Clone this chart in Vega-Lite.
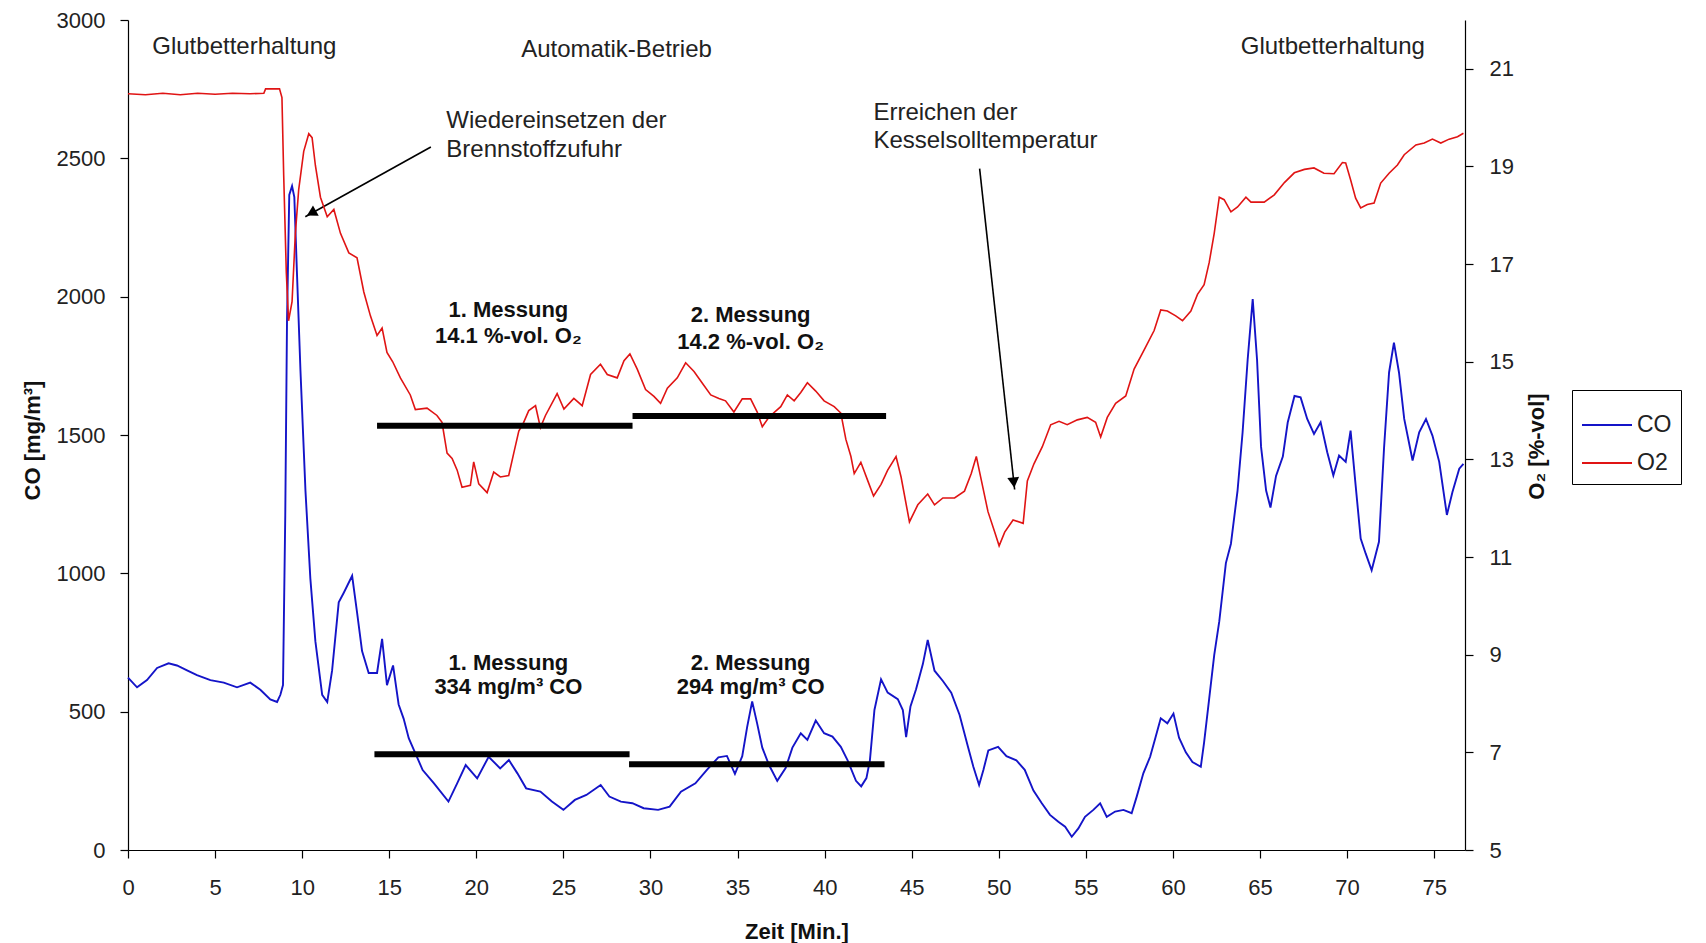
{
  "$schema": "https://vega.github.io/schema/vega-lite/v6.json",
  "width": 1337,
  "height": 830,
  "autosize": {"type": "none"},
  "padding": {"left": 128, "top": 20, "right": 241, "bottom": 93},
  "background": "white",
  "config": {
    "font": "Liberation Sans",
    "view": {"stroke": null},
    "axis": {
      "domainColor": "#000", "tickColor": "#000", "domainWidth": 1.2, "tickWidth": 1.2, "tickSize": 8,
      "grid": false, "labelFont": "Liberation Sans", "labelFontSize": 22, "labelColor": "#222",
      "titleFont": "Liberation Sans", "titleFontSize": 22, "titleFontWeight": "bold", "titleColor": "#111"
    },
    "text": {"font": "Liberation Sans", "fontSize": 24, "color": "#222"}
  },
  "datasets": {
    "co": [
      {"t":0,"v":623,"s":"CO"},{"t":0.52,"v":588,"s":"CO"},{"t":1.09,"v":614,"s":"CO"},{"t":1.67,"v":658,"s":"CO"},{"t":2.33,"v":675,"s":"CO"},{"t":2.81,"v":667,"s":"CO"},{"t":3.39,"v":649,"s":"CO"},{"t":3.96,"v":632,"s":"CO"},{"t":4.73,"v":614,"s":"CO"},{"t":5.5,"v":605,"s":"CO"},{"t":6.26,"v":588,"s":"CO"},{"t":7.02,"v":605,"s":"CO"},{"t":7.6,"v":579,"s":"CO"},{"t":8.17,"v":544,"s":"CO"},{"t":8.56,"v":535,"s":"CO"},{"t":8.75,"v":561,"s":"CO"},{"t":8.9,"v":596,"s":"CO"},{"t":9.03,"v":1210,"s":"CO"},{"t":9.13,"v":1912,"s":"CO"},{"t":9.26,"v":2368,"s":"CO"},{"t":9.42,"v":2400,"s":"CO"},{"t":9.55,"v":2360,"s":"CO"},{"t":9.7,"v":2088,"s":"CO"},{"t":9.9,"v":1737,"s":"CO"},{"t":10.19,"v":1298,"s":"CO"},{"t":10.47,"v":982,"s":"CO"},{"t":10.76,"v":754,"s":"CO"},{"t":11.15,"v":561,"s":"CO"},{"t":11.44,"v":535,"s":"CO"},{"t":11.72,"v":649,"s":"CO"},{"t":12.1,"v":895,"s":"CO"},{"t":12.39,"v":930,"s":"CO"},{"t":12.87,"v":991,"s":"CO"},{"t":13.15,"v":860,"s":"CO"},{"t":13.44,"v":719,"s":"CO"},{"t":13.82,"v":640,"s":"CO"},{"t":14.3,"v":640,"s":"CO"},{"t":14.59,"v":763,"s":"CO"},{"t":14.87,"v":596,"s":"CO"},{"t":15.22,"v":667,"s":"CO"},{"t":15.54,"v":526,"s":"CO"},{"t":15.83,"v":474,"s":"CO"},{"t":16.12,"v":404,"s":"CO"},{"t":16.42,"v":361,"s":"CO"},{"t":16.92,"v":289,"s":"CO"},{"t":17.57,"v":241,"s":"CO"},{"t":18.4,"v":175,"s":"CO"},{"t":18.9,"v":241,"s":"CO"},{"t":19.39,"v":307,"s":"CO"},{"t":20.05,"v":259,"s":"CO"},{"t":20.71,"v":337,"s":"CO"},{"t":21.37,"v":295,"s":"CO"},{"t":21.87,"v":325,"s":"CO"},{"t":22.36,"v":277,"s":"CO"},{"t":22.86,"v":223,"s":"CO"},{"t":23.68,"v":211,"s":"CO"},{"t":24.34,"v":175,"s":"CO"},{"t":25.0,"v":145,"s":"CO"},{"t":25.66,"v":181,"s":"CO"},{"t":26.32,"v":199,"s":"CO"},{"t":27.14,"v":235,"s":"CO"},{"t":27.64,"v":193,"s":"CO"},{"t":28.3,"v":175,"s":"CO"},{"t":28.96,"v":169,"s":"CO"},{"t":29.61,"v":151,"s":"CO"},{"t":30.44,"v":145,"s":"CO"},{"t":31.1,"v":157,"s":"CO"},{"t":31.75,"v":211,"s":"CO"},{"t":32.58,"v":241,"s":"CO"},{"t":33.24,"v":290,"s":"CO"},{"t":33.9,"v":335,"s":"CO"},{"t":34.39,"v":340,"s":"CO"},{"t":34.85,"v":275,"s":"CO"},{"t":35.27,"v":339,"s":"CO"},{"t":35.55,"v":444,"s":"CO"},{"t":35.84,"v":537,"s":"CO"},{"t":36.13,"v":456,"s":"CO"},{"t":36.42,"v":370,"s":"CO"},{"t":36.8,"v":308,"s":"CO"},{"t":37.28,"v":250,"s":"CO"},{"t":37.76,"v":296,"s":"CO"},{"t":38.15,"v":370,"s":"CO"},{"t":38.63,"v":422,"s":"CO"},{"t":39.01,"v":398,"s":"CO"},{"t":39.49,"v":468,"s":"CO"},{"t":39.97,"v":422,"s":"CO"},{"t":40.45,"v":410,"s":"CO"},{"t":40.93,"v":373,"s":"CO"},{"t":41.32,"v":324,"s":"CO"},{"t":41.8,"v":250,"s":"CO"},{"t":42.1,"v":230,"s":"CO"},{"t":42.4,"v":260,"s":"CO"},{"t":42.6,"v":324,"s":"CO"},{"t":42.86,"v":506,"s":"CO"},{"t":43.24,"v":617,"s":"CO"},{"t":43.62,"v":569,"s":"CO"},{"t":44.2,"v":545,"s":"CO"},{"t":44.49,"v":506,"s":"CO"},{"t":44.68,"v":408,"s":"CO"},{"t":44.93,"v":519,"s":"CO"},{"t":45.25,"v":581,"s":"CO"},{"t":45.64,"v":672,"s":"CO"},{"t":45.92,"v":759,"s":"CO"},{"t":46.31,"v":648,"s":"CO"},{"t":46.79,"v":611,"s":"CO"},{"t":47.27,"v":569,"s":"CO"},{"t":47.75,"v":488,"s":"CO"},{"t":48.23,"v":373,"s":"CO"},{"t":48.54,"v":301,"s":"CO"},{"t":48.87,"v":235,"s":"CO"},{"t":49.12,"v":290,"s":"CO"},{"t":49.4,"v":360,"s":"CO"},{"t":49.96,"v":373,"s":"CO"},{"t":50.44,"v":339,"s":"CO"},{"t":51.01,"v":324,"s":"CO"},{"t":51.49,"v":290,"s":"CO"},{"t":51.99,"v":215,"s":"CO"},{"t":52.47,"v":169,"s":"CO"},{"t":52.94,"v":127,"s":"CO"},{"t":53.42,"v":102,"s":"CO"},{"t":53.81,"v":84,"s":"CO"},{"t":54.19,"v":48,"s":"CO"},{"t":54.57,"v":78,"s":"CO"},{"t":54.95,"v":120,"s":"CO"},{"t":55.43,"v":145,"s":"CO"},{"t":55.82,"v":169,"s":"CO"},{"t":56.2,"v":120,"s":"CO"},{"t":56.68,"v":139,"s":"CO"},{"t":57.16,"v":145,"s":"CO"},{"t":57.63,"v":133,"s":"CO"},{"t":57.92,"v":193,"s":"CO"},{"t":58.3,"v":277,"s":"CO"},{"t":58.69,"v":337,"s":"CO"},{"t":58.97,"v":400,"s":"CO"},{"t":59.3,"v":476,"s":"CO"},{"t":59.68,"v":458,"s":"CO"},{"t":60.03,"v":493,"s":"CO"},{"t":60.35,"v":406,"s":"CO"},{"t":60.74,"v":353,"s":"CO"},{"t":61.12,"v":318,"s":"CO"},{"t":61.6,"v":301,"s":"CO"},{"t":61.79,"v":389,"s":"CO"},{"t":62.08,"v":546,"s":"CO"},{"t":62.37,"v":704,"s":"CO"},{"t":62.66,"v":826,"s":"CO"},{"t":63.04,"v":1037,"s":"CO"},{"t":63.33,"v":1107,"s":"CO"},{"t":63.71,"v":1299,"s":"CO"},{"t":64.0,"v":1510,"s":"CO"},{"t":64.29,"v":1772,"s":"CO"},{"t":64.58,"v":1991,"s":"CO"},{"t":64.83,"v":1772,"s":"CO"},{"t":65.06,"v":1457,"s":"CO"},{"t":65.35,"v":1299,"s":"CO"},{"t":65.6,"v":1238,"s":"CO"},{"t":65.92,"v":1352,"s":"CO"},{"t":66.31,"v":1422,"s":"CO"},{"t":66.59,"v":1545,"s":"CO"},{"t":66.98,"v":1641,"s":"CO"},{"t":67.33,"v":1636,"s":"CO"},{"t":67.71,"v":1558,"s":"CO"},{"t":68.1,"v":1504,"s":"CO"},{"t":68.48,"v":1546,"s":"CO"},{"t":68.86,"v":1438,"s":"CO"},{"t":69.21,"v":1354,"s":"CO"},{"t":69.54,"v":1426,"s":"CO"},{"t":69.92,"v":1403,"s":"CO"},{"t":70.2,"v":1516,"s":"CO"},{"t":70.49,"v":1318,"s":"CO"},{"t":70.78,"v":1126,"s":"CO"},{"t":71.07,"v":1071,"s":"CO"},{"t":71.41,"v":1011,"s":"CO"},{"t":71.83,"v":1114,"s":"CO"},{"t":72.12,"v":1451,"s":"CO"},{"t":72.41,"v":1726,"s":"CO"},{"t":72.69,"v":1834,"s":"CO"},{"t":72.98,"v":1726,"s":"CO"},{"t":73.28,"v":1558,"s":"CO"},{"t":73.76,"v":1408,"s":"CO"},{"t":74.14,"v":1510,"s":"CO"},{"t":74.53,"v":1558,"s":"CO"},{"t":74.9,"v":1498,"s":"CO"},{"t":75.29,"v":1403,"s":"CO"},{"t":75.73,"v":1211,"s":"CO"},{"t":76.05,"v":1294,"s":"CO"},{"t":76.44,"v":1378,"s":"CO"},{"t":76.68,"v":1396,"s":"CO"}
    ],
    "o2": [
      {"t":0,"v":20.49,"s":"O2"},{"t":1,"v":20.47,"s":"O2"},{"t":2,"v":20.5,"s":"O2"},{"t":3,"v":20.47,"s":"O2"},{"t":4,"v":20.5,"s":"O2"},{"t":5,"v":20.48,"s":"O2"},{"t":6,"v":20.5,"s":"O2"},{"t":7,"v":20.49,"s":"O2"},{"t":7.8,"v":20.5,"s":"O2"},{"t":7.9,"v":20.59,"s":"O2"},{"t":8.7,"v":20.59,"s":"O2"},{"t":8.84,"v":20.41,"s":"O2"},{"t":8.94,"v":18.82,"s":"O2"},{"t":9.09,"v":16.83,"s":"O2"},{"t":9.22,"v":15.84,"s":"O2"},{"t":9.42,"v":16.23,"s":"O2"},{"t":9.61,"v":17.63,"s":"O2"},{"t":9.8,"v":18.52,"s":"O2"},{"t":10.09,"v":19.31,"s":"O2"},{"t":10.38,"v":19.67,"s":"O2"},{"t":10.57,"v":19.59,"s":"O2"},{"t":10.76,"v":19.02,"s":"O2"},{"t":11.05,"v":18.37,"s":"O2"},{"t":11.44,"v":17.97,"s":"O2"},{"t":11.82,"v":18.12,"s":"O2"},{"t":12.2,"v":17.63,"s":"O2"},{"t":12.68,"v":17.23,"s":"O2"},{"t":13.15,"v":17.13,"s":"O2"},{"t":13.54,"v":16.43,"s":"O2"},{"t":13.92,"v":15.94,"s":"O2"},{"t":14.3,"v":15.54,"s":"O2"},{"t":14.59,"v":15.69,"s":"O2"},{"t":14.87,"v":15.19,"s":"O2"},{"t":15.2,"v":15.0,"s":"O2"},{"t":15.64,"v":14.67,"s":"O2"},{"t":16.21,"v":14.32,"s":"O2"},{"t":16.5,"v":14.02,"s":"O2"},{"t":17.17,"v":14.05,"s":"O2"},{"t":17.74,"v":13.9,"s":"O2"},{"t":18.03,"v":13.76,"s":"O2"},{"t":18.32,"v":13.13,"s":"O2"},{"t":18.61,"v":13.02,"s":"O2"},{"t":18.9,"v":12.78,"s":"O2"},{"t":19.18,"v":12.43,"s":"O2"},{"t":19.66,"v":12.47,"s":"O2"},{"t":19.85,"v":12.95,"s":"O2"},{"t":20.14,"v":12.5,"s":"O2"},{"t":20.62,"v":12.32,"s":"O2"},{"t":21.0,"v":12.74,"s":"O2"},{"t":21.38,"v":12.64,"s":"O2"},{"t":21.86,"v":12.67,"s":"O2"},{"t":22.15,"v":13.13,"s":"O2"},{"t":22.44,"v":13.58,"s":"O2"},{"t":22.72,"v":13.76,"s":"O2"},{"t":23.01,"v":14.0,"s":"O2"},{"t":23.4,"v":14.1,"s":"O2"},{"t":23.68,"v":13.65,"s":"O2"},{"t":23.97,"v":13.9,"s":"O2"},{"t":24.64,"v":14.35,"s":"O2"},{"t":25.03,"v":14.03,"s":"O2"},{"t":25.6,"v":14.25,"s":"O2"},{"t":26.08,"v":14.1,"s":"O2"},{"t":26.56,"v":14.74,"s":"O2"},{"t":27.13,"v":14.95,"s":"O2"},{"t":27.52,"v":14.74,"s":"O2"},{"t":28.09,"v":14.67,"s":"O2"},{"t":28.48,"v":15.02,"s":"O2"},{"t":28.82,"v":15.16,"s":"O2"},{"t":29.24,"v":14.85,"s":"O2"},{"t":29.72,"v":14.43,"s":"O2"},{"t":30.2,"v":14.29,"s":"O2"},{"t":30.58,"v":14.15,"s":"O2"},{"t":30.97,"v":14.46,"s":"O2"},{"t":31.54,"v":14.67,"s":"O2"},{"t":32.02,"v":14.98,"s":"O2"},{"t":32.5,"v":14.8,"s":"O2"},{"t":32.98,"v":14.56,"s":"O2"},{"t":33.46,"v":14.32,"s":"O2"},{"t":33.93,"v":14.25,"s":"O2"},{"t":34.31,"v":14.2,"s":"O2"},{"t":34.79,"v":13.97,"s":"O2"},{"t":35.27,"v":14.24,"s":"O2"},{"t":35.75,"v":14.24,"s":"O2"},{"t":36.13,"v":13.97,"s":"O2"},{"t":36.42,"v":13.67,"s":"O2"},{"t":36.81,"v":13.87,"s":"O2"},{"t":37.48,"v":14.08,"s":"O2"},{"t":37.86,"v":14.32,"s":"O2"},{"t":38.25,"v":14.2,"s":"O2"},{"t":38.63,"v":14.37,"s":"O2"},{"t":39.01,"v":14.57,"s":"O2"},{"t":39.49,"v":14.4,"s":"O2"},{"t":39.97,"v":14.2,"s":"O2"},{"t":40.55,"v":14.08,"s":"O2"},{"t":40.93,"v":13.95,"s":"O2"},{"t":41.22,"v":13.41,"s":"O2"},{"t":41.51,"v":13.06,"s":"O2"},{"t":41.7,"v":12.71,"s":"O2"},{"t":42.08,"v":12.94,"s":"O2"},{"t":42.47,"v":12.57,"s":"O2"},{"t":42.81,"v":12.25,"s":"O2"},{"t":43.24,"v":12.49,"s":"O2"},{"t":43.62,"v":12.78,"s":"O2"},{"t":44.1,"v":13.06,"s":"O2"},{"t":44.39,"v":12.64,"s":"O2"},{"t":44.87,"v":11.72,"s":"O2"},{"t":45.35,"v":12.07,"s":"O2"},{"t":45.92,"v":12.29,"s":"O2"},{"t":46.31,"v":12.07,"s":"O2"},{"t":46.79,"v":12.21,"s":"O2"},{"t":47.46,"v":12.21,"s":"O2"},{"t":48.03,"v":12.35,"s":"O2"},{"t":48.42,"v":12.71,"s":"O2"},{"t":48.71,"v":13.06,"s":"O2"},{"t":49.0,"v":12.57,"s":"O2"},{"t":49.38,"v":11.93,"s":"O2"},{"t":49.77,"v":11.51,"s":"O2"},{"t":50.02,"v":11.23,"s":"O2"},{"t":50.34,"v":11.51,"s":"O2"},{"t":50.82,"v":11.76,"s":"O2"},{"t":51.4,"v":11.69,"s":"O2"},{"t":51.64,"v":12.56,"s":"O2"},{"t":52.02,"v":12.91,"s":"O2"},{"t":52.5,"v":13.26,"s":"O2"},{"t":52.98,"v":13.71,"s":"O2"},{"t":53.46,"v":13.78,"s":"O2"},{"t":53.93,"v":13.71,"s":"O2"},{"t":54.51,"v":13.81,"s":"O2"},{"t":55.08,"v":13.86,"s":"O2"},{"t":55.56,"v":13.76,"s":"O2"},{"t":55.85,"v":13.46,"s":"O2"},{"t":56.23,"v":13.86,"s":"O2"},{"t":56.71,"v":14.15,"s":"O2"},{"t":57.29,"v":14.3,"s":"O2"},{"t":57.77,"v":14.85,"s":"O2"},{"t":58.34,"v":15.24,"s":"O2"},{"t":58.92,"v":15.64,"s":"O2"},{"t":59.3,"v":16.06,"s":"O2"},{"t":59.68,"v":16.04,"s":"O2"},{"t":60.16,"v":15.94,"s":"O2"},{"t":60.55,"v":15.84,"s":"O2"},{"t":61.03,"v":16.04,"s":"O2"},{"t":61.41,"v":16.38,"s":"O2"},{"t":61.79,"v":16.58,"s":"O2"},{"t":62.08,"v":17.03,"s":"O2"},{"t":62.37,"v":17.63,"s":"O2"},{"t":62.66,"v":18.37,"s":"O2"},{"t":62.94,"v":18.32,"s":"O2"},{"t":63.33,"v":18.07,"s":"O2"},{"t":63.71,"v":18.17,"s":"O2"},{"t":64.19,"v":18.37,"s":"O2"},{"t":64.48,"v":18.27,"s":"O2"},{"t":65.24,"v":18.27,"s":"O2"},{"t":65.82,"v":18.42,"s":"O2"},{"t":66.4,"v":18.67,"s":"O2"},{"t":66.97,"v":18.87,"s":"O2"},{"t":67.55,"v":18.94,"s":"O2"},{"t":68.1,"v":18.97,"s":"O2"},{"t":68.67,"v":18.86,"s":"O2"},{"t":69.25,"v":18.85,"s":"O2"},{"t":69.73,"v":19.08,"s":"O2"},{"t":69.92,"v":19.07,"s":"O2"},{"t":70.2,"v":18.73,"s":"O2"},{"t":70.49,"v":18.35,"s":"O2"},{"t":70.78,"v":18.15,"s":"O2"},{"t":71.16,"v":18.22,"s":"O2"},{"t":71.55,"v":18.25,"s":"O2"},{"t":71.93,"v":18.66,"s":"O2"},{"t":72.41,"v":18.86,"s":"O2"},{"t":72.89,"v":19.03,"s":"O2"},{"t":73.28,"v":19.24,"s":"O2"},{"t":73.95,"v":19.44,"s":"O2"},{"t":74.43,"v":19.48,"s":"O2"},{"t":74.9,"v":19.56,"s":"O2"},{"t":75.38,"v":19.48,"s":"O2"},{"t":75.86,"v":19.56,"s":"O2"},{"t":76.34,"v":19.61,"s":"O2"},{"t":76.68,"v":19.68,"s":"O2"}
    ],
    "cobars": [{"t0":14.15,"t1":28.8,"v":346},{"t0":28.77,"t1":43.44,"v":310}],
    "o2bars": [{"t0":14.3,"t1":28.97,"v":13.69},{"t0":28.97,"t1":43.53,"v":13.89}],
    "phase": [
      {"txt":"Glutbetterhaltung","t":6.68,"v":2903},
      {"txt":"Automatik-Betrieb","t":28.05,"v":2892},
      {"txt":"Glutbetterhaltung","t":69.18,"v":2903}
    ],
    "notes": [
      {"txt":"Wiedereinsetzen der","t":18.28,"v":2636},
      {"txt":"Brennstoffzufuhr","t":18.28,"v":2530},
      {"txt":"Erreichen der","t":42.8,"v":2663},
      {"txt":"Kesselsolltemperatur","t":42.8,"v":2561}
    ],
    "meas": [
      {"txt":"1. Messung","t":21.84,"v":1953},
      {"txt":"14.1 %-vol. O₂","t":21.84,"v":1858},
      {"txt":"2. Messung","t":35.75,"v":1933},
      {"txt":"14.2 %-vol. O₂","t":35.75,"v":1836},
      {"txt":"1. Messung","t":21.84,"v":675},
      {"txt":"334 mg/m³ CO","t":21.84,"v":588},
      {"txt":"2. Messung","t":35.75,"v":675},
      {"txt":"294 mg/m³ CO","t":35.75,"v":588}
    ],
    "arrows": [
      {"id":"a1","o":0,"t":17.39,"v":2541},{"id":"a1","o":1,"t":10.18,"v":2289},
      {"id":"a2","o":0,"t":48.9,"v":2463},{"id":"a2","o":1,"t":50.91,"v":1303}
    ],
    "head1": [{"t":10.53,"v":2302}],
    "head2": [{"t":50.86,"v":1328}]
  },
  "layer": [
    {
      "layer": [
        {
          "data": {"name": "co"},
          "mark": {"type": "line", "strokeWidth": 1.9},
          "encoding": {
            "x": {"field": "t", "type": "quantitative", "scale": {"domain": [0, 76.77], "nice": false, "zero": false},
                  "axis": {"values": [0,5,10,15,20,25,30,35,40,45,50,55,60,65,70,75], "format": "d", "title": "Zeit [Min.]", "labelPadding": 19, "labelFlush": false, "labelOverlap": false, "titleY": 88, "titleBaseline": "alphabetic"}},
            "y": {"field": "v", "type": "quantitative", "scale": {"domain": [0, 3000], "nice": false, "zero": false},
                  "axis": {"values": [0,500,1000,1500,2000,2500,3000], "format": "d", "title": "CO [mg/m³]", "labelPadding": 15, "labelFlush": false, "titleAngle": 270, "titleX": -89, "titleY": 420, "titleBaseline": "alphabetic"}},
            "color": {"field": "s", "type": "nominal", "scale": {"domain": ["CO", "O2"], "range": ["#1414c8", "#e01414"]},
                      "legend": {"orient": "none", "legendX": 1444, "legendY": 370, "title": null, "strokeColor": "#000", "fillColor": "#fff", "padding": 9, "symbolType": "stroke", "symbolSize": 2500, "symbolStrokeWidth": 2, "labelFont": "Liberation Sans", "labelFontSize": 23, "labelColor": "#222", "labelOffset": 4, "rowPadding": 0}}
          }
        },
        {
          "data": {"name": "cobars"},
          "mark": {"type": "rule", "strokeWidth": 6, "color": "#000"},
          "encoding": {
            "x": {"field": "t0", "type": "quantitative"},
            "x2": {"field": "t1"},
            "y": {"field": "v", "type": "quantitative"}
          }
        },
        {
          "data": {"name": "phase"},
          "mark": {"type": "text", "align": "center", "baseline": "middle", "fontSize": 24, "color": "#222"},
          "encoding": {
            "x": {"field": "t", "type": "quantitative"},
            "y": {"field": "v", "type": "quantitative"},
            "text": {"field": "txt"}
          }
        },
        {
          "data": {"name": "notes"},
          "mark": {"type": "text", "align": "left", "baseline": "middle", "fontSize": 24, "color": "#222"},
          "encoding": {
            "x": {"field": "t", "type": "quantitative"},
            "y": {"field": "v", "type": "quantitative"},
            "text": {"field": "txt"}
          }
        },
        {
          "data": {"name": "meas"},
          "mark": {"type": "text", "align": "center", "baseline": "middle", "fontSize": 22, "fontWeight": "bold", "color": "#111"},
          "encoding": {
            "x": {"field": "t", "type": "quantitative"},
            "y": {"field": "v", "type": "quantitative"},
            "text": {"field": "txt"}
          }
        },
        {
          "data": {"name": "arrows"},
          "mark": {"type": "line", "strokeWidth": 1.6, "color": "#000"},
          "encoding": {
            "x": {"field": "t", "type": "quantitative"},
            "y": {"field": "v", "type": "quantitative"},
            "detail": {"field": "id"},
            "order": {"field": "o"}
          }
        },
        {
          "data": {"name": "head1"},
          "mark": {"type": "point", "shape": "triangle-up", "filled": true, "size": 140, "color": "#000", "opacity": 1, "angle": 241},
          "encoding": {
            "x": {"field": "t", "type": "quantitative"},
            "y": {"field": "v", "type": "quantitative"}
          }
        },
        {
          "data": {"name": "head2"},
          "mark": {"type": "point", "shape": "triangle-up", "filled": true, "size": 140, "color": "#000", "opacity": 1, "angle": 174},
          "encoding": {
            "x": {"field": "t", "type": "quantitative"},
            "y": {"field": "v", "type": "quantitative"}
          }
        }
      ]
    },
    {
      "layer": [
        {
          "data": {"name": "o2"},
          "mark": {"type": "line", "strokeWidth": 1.6},
          "encoding": {
            "x": {"field": "t", "type": "quantitative"},
            "y": {"field": "v", "type": "quantitative", "scale": {"domain": [5, 22], "nice": false, "zero": false},
                  "axis": {"orient": "right", "values": [5,7,9,11,13,15,17,19,21], "format": "d", "title": "O₂ [%-vol]", "labelPadding": 16, "labelFlush": false, "titleAngle": 270, "titleX": 78, "titleY": 426, "titleBaseline": "alphabetic"}},
            "color": {"field": "s", "type": "nominal", "scale": {"domain": ["CO", "O2"], "range": ["#1414c8", "#e01414"]},
                      "legend": {"orient": "none", "legendX": 1444, "legendY": 370, "title": null, "strokeColor": "#000", "fillColor": "#fff", "padding": 9, "symbolType": "stroke", "symbolSize": 2500, "symbolStrokeWidth": 2, "labelFont": "Liberation Sans", "labelFontSize": 23, "labelColor": "#222", "labelOffset": 4, "rowPadding": 0}}
          }
        },
        {
          "data": {"name": "o2bars"},
          "mark": {"type": "rule", "strokeWidth": 6, "color": "#000"},
          "encoding": {
            "x": {"field": "t0", "type": "quantitative"},
            "x2": {"field": "t1"},
            "y": {"field": "v", "type": "quantitative"}
          }
        }
      ]
    }
  ],
  "resolve": {"scale": {"y": "independent"}}
}
